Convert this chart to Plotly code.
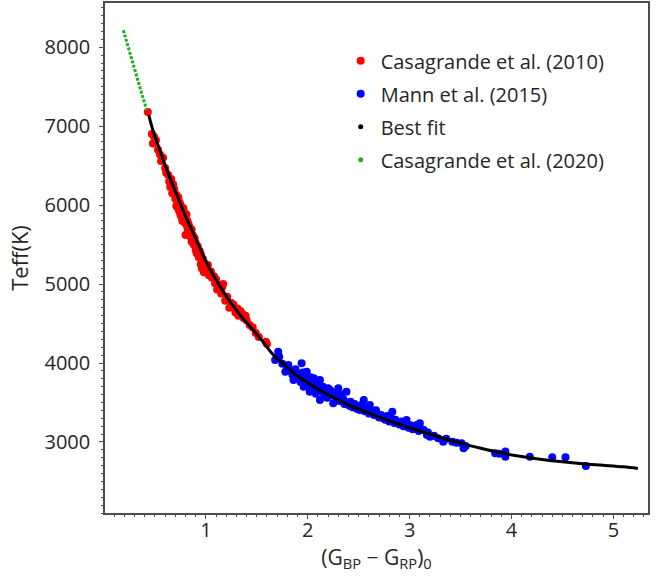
import plotly.graph_objects as go

# Casagrande et al. (2010) - red
red_x = [0.43, 0.47, 0.49, 0.48, 0.51, 0.53, 0.55, 0.56, 0.58, 0.60, 0.61, 0.63, 0.64, 0.65, 0.66,
         0.67, 0.68, 0.69, 0.70, 0.71, 0.71, 0.72, 0.73, 0.73, 0.74, 0.74, 0.75, 0.75, 0.76, 0.76,
         0.77, 0.77, 0.78, 0.78, 0.79, 0.79, 0.80, 0.80, 0.81, 0.81, 0.82, 0.82, 0.83, 0.84, 0.84,
         0.85, 0.86, 0.86, 0.87, 0.88, 0.89, 0.90, 0.90, 0.91, 0.92, 0.93, 0.94, 0.95, 0.95, 0.96,
         0.97, 0.98, 0.99, 1.00, 1.02, 1.03, 1.05, 1.06, 1.08, 1.09, 1.10, 1.11, 1.13, 1.15, 1.16,
         1.17, 1.19, 1.21, 1.23, 1.25, 1.27, 1.29, 1.31, 1.32, 1.34, 1.36, 1.37, 1.39, 1.40, 1.43,
         1.46, 1.49, 1.52, 1.59, 1.60]
red_y = [7180, 6900, 6870, 6780, 6820, 6700, 6640, 6560, 6600, 6470, 6410, 6380, 6300, 6230, 6330,
         6150, 6260, 6200, 6080, 6130, 5990, 6050, 5950, 6100, 5920, 6040, 5880, 6010, 5970, 5850,
         5930, 5800, 5960, 5860, 5780, 5900, 5830, 5620, 5750, 5880, 5700, 5800, 5760, 5650, 5720,
         5600, 5690, 5540, 5620, 5500, 5580, 5430, 5520, 5390, 5480, 5340, 5420, 5250, 5380, 5200,
         5320, 5150, 5260, 5180, 5240, 5110, 5160, 5080, 5100, 5010, 5060, 4930, 4990, 4880, 4960,
         5000, 4790, 4840, 4700, 4760, 4740, 4640, 4690, 4600, 4660, 4620, 4570, 4600, 4540, 4480,
         4450, 4380, 4330, 4270, 4240]

# Mann et al. (2015) - blue
blue_x = [1.71, 1.68, 1.72, 1.75, 1.78, 1.80, 1.81, 1.83, 1.85, 1.86, 1.88, 1.89, 1.91, 1.93, 1.94,
          1.95, 1.96, 1.97, 1.99, 2.00, 2.01, 2.02, 2.03, 2.05, 2.06, 2.07, 2.08, 2.10, 2.11, 2.12,
          2.12, 2.13, 2.15, 2.16, 2.18, 2.19, 2.20, 2.22, 2.23, 2.25, 2.26, 2.28, 2.30, 2.31, 2.33,
          2.35, 2.36, 2.38, 2.40, 2.41, 2.42, 2.44, 2.46, 2.48, 2.50, 2.51, 2.53, 2.55, 2.56, 2.58,
          2.60, 2.61, 2.63, 2.65, 2.67, 2.68, 2.70, 2.72, 2.74, 2.76, 2.78, 2.80, 2.82, 2.83, 2.85,
          2.86, 2.88, 2.90, 2.92, 2.94, 2.96, 2.97, 2.99, 3.01, 3.03, 3.05, 3.07, 3.09, 3.10, 3.12,
          3.14, 3.17, 3.18, 3.20, 3.24, 3.28, 3.33, 3.36, 3.42, 3.46, 3.51, 3.53, 3.55, 3.84, 3.88,
          3.94, 3.94, 4.18, 4.40, 4.53, 4.73]
blue_y = [4143, 4038, 4080, 3990, 3890, 3960, 3975, 3900, 3850, 3785, 3920, 3869, 3820, 3760, 3996,
          3880, 3700, 3840, 3890, 3780, 3700, 3637, 3820, 3750, 3806, 3680, 3610, 3720, 3760, 3785,
          3532, 3650, 3700, 3600, 3640, 3560, 3680, 3658, 3590, 3490, 3620, 3560, 3680, 3520, 3600,
          3540, 3480, 3637, 3500, 3460, 3510, 3440, 3480, 3420, 3440, 3405, 3470, 3532, 3390, 3430,
          3360, 3468, 3380, 3340, 3400, 3363, 3310, 3340, 3300, 3280, 3330, 3260, 3300, 3384, 3240,
          3280, 3257, 3220, 3260, 3200, 3240, 3278, 3180, 3210, 3160, 3190, 3215, 3140, 3237, 3160,
          3152, 3089, 3120, 3067, 3080, 3047, 3004, 3040, 3004, 2990, 2984, 2920, 2950, 2857, 2850,
          2878, 2814, 2814, 2806, 2806, 2696]

# Best fit - black
fit_x = [0.44, 0.48, 0.55, 0.62, 0.68, 0.75, 0.82, 0.88, 0.94, 1.00, 1.07, 1.14, 1.22, 1.30, 1.38,
         1.47, 1.56, 1.65, 1.74, 1.82, 1.90, 2.00, 2.12, 2.25, 2.40, 2.55, 2.70, 2.85, 3.00, 3.15,
         3.30, 3.50, 3.70, 3.90, 4.10, 4.30, 4.50, 4.70, 4.90, 5.10, 5.24]
fit_y = [7140, 6950, 6690, 6440, 6240, 6020, 5800, 5640, 5460, 5290, 5120, 4970, 4810, 4670, 4540,
         4410, 4270, 4120, 4010, 3920, 3835, 3750, 3655, 3565, 3470, 3390, 3315, 3245, 3180, 3120,
         3060, 2985, 2920, 2862, 2815, 2778, 2748, 2724, 2705, 2685, 2665]

# Casagrande et al. (2020) - green
green_x = [0.19, 0.24, 0.29, 0.34, 0.38, 0.42]
green_y = [8215, 7990, 7760, 7530, 7370, 7205]

FONT = "Open Sans"
AX = "#4d4d4d"
TXT = "#262626"
GREEN = "#1fb01f"

fig = go.Figure()
fig.add_trace(go.Scatter(x=red_x, y=red_y, mode="markers", name="Casagrande et al. (2010)",
                         marker=dict(color="#ff0000", size=8), legendgroup="a"))
fig.add_trace(go.Scatter(x=blue_x, y=blue_y, mode="markers", name="Mann et al. (2015)",
                         marker=dict(color="#0000ff", size=8), legendgroup="b"))
fig.add_trace(go.Scatter(x=fit_x, y=fit_y, mode="lines", line=dict(color="black", width=3, shape="spline"),
                         showlegend=False))
fig.add_trace(go.Scatter(x=green_x, y=green_y, mode="lines",
                         line=dict(color=GREEN, width=3, dash="3px,1.5px"), showlegend=False))
fig.add_trace(go.Scatter(x=[None], y=[None], mode="markers", name="Best fit",
                         marker=dict(color="black", size=5), legendgroup="c"))
fig.add_trace(go.Scatter(x=[None], y=[None], mode="markers", name="Casagrande et al. (2020)",
                         marker=dict(color=GREEN, size=5), legendgroup="d"))

axis_common = dict(showgrid=False, zeroline=False, showline=True, mirror=True, linecolor=AX, linewidth=1.5,
                   ticks="outside", ticklen=4, tickcolor=AX, tickfont=dict(family=FONT, size=20, color=TXT))

fig.update_layout(
    width=666, height=576,
    margin=dict(l=105, r=18, t=3, b=63),
    plot_bgcolor="white", paper_bgcolor="white",
    font=dict(family=FONT, color=TXT),
    xaxis=dict(range=[0.01, 5.34], tickvals=[1, 2, 3, 4, 5],
               minor=dict(dtick=0.1, tick0=0, ticks="outside", ticklen=2, tickcolor=AX),
               title=dict(text="(G<sub>BP</sub> − G<sub>RP</sub>)<sub>0</sub>",
                          font=dict(family=FONT, size=21, color=TXT), standoff=0),
               automargin=False, ticklabelstandoff=-6, **axis_common),
    yaxis=dict(range=[2100, 8560], tickvals=[3000, 4000, 5000, 6000, 7000, 8000],
               minor=dict(dtick=100, tick0=0, ticks="outside", ticklen=2, tickcolor=AX),
               title=dict(text="Teff(K)", font=dict(family=FONT, size=22, color=TXT), standoff=10),
               automargin=False, ticklabelstandoff=5, **axis_common),
    legend=dict(x=0.434, y=0.925, xanchor="left", yanchor="top", bgcolor="rgba(0,0,0,0)",
                font=dict(family=FONT, size=20, color=TXT), itemwidth=30,
                traceorder="grouped", tracegroupgap=4),
)

fig.write_html("out.html")
